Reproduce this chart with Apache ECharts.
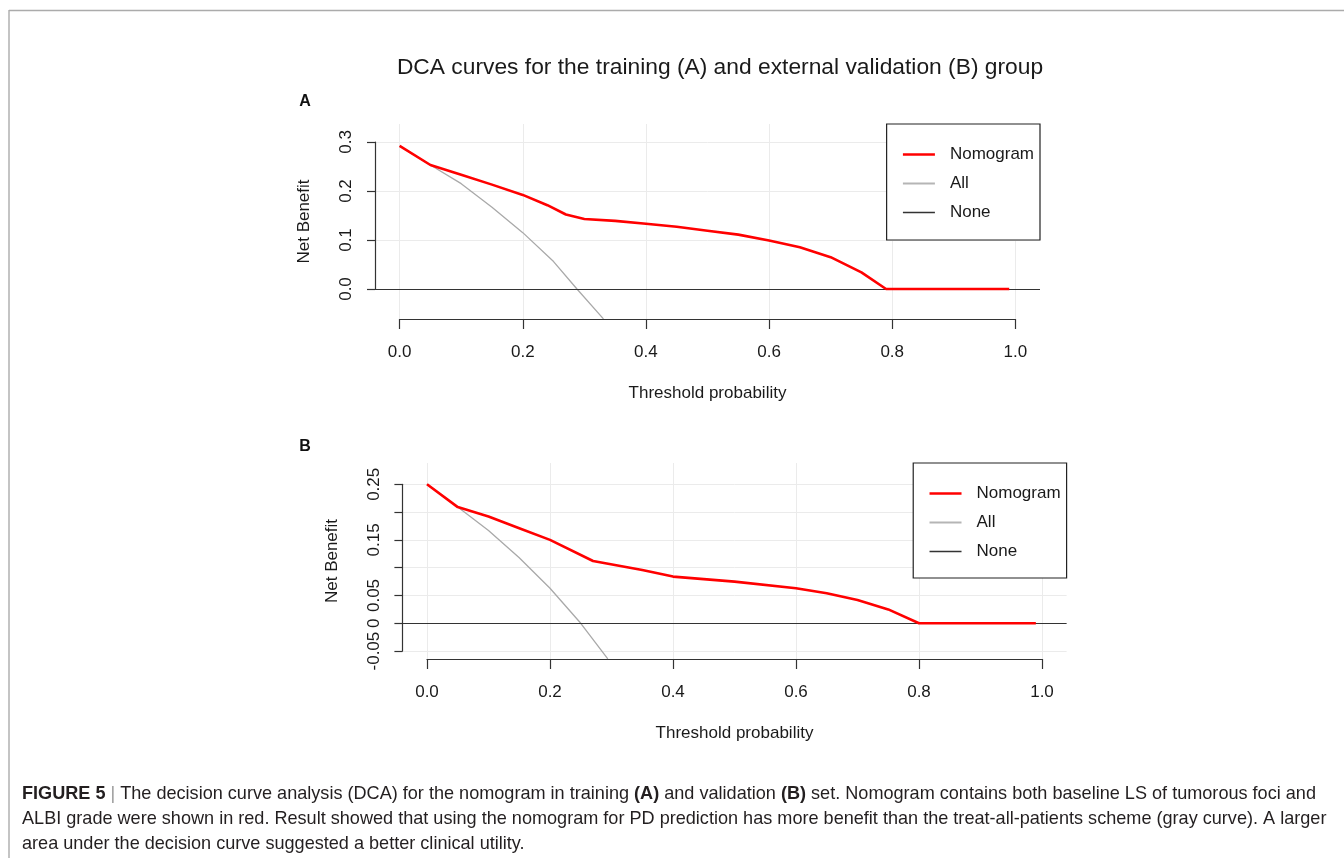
<!DOCTYPE html>
<html>
<head>
<meta charset="utf-8">
<script src="https://cdn.jsdelivr.net/npm/echarts@6/dist/echarts.min.js"></script>
<style>
  html, body { margin: 0; padding: 0; background: #ffffff; }
  #chart { width: 1344px; height: 858px; }
</style>
</head>
<body>
<div id="chart"></div>
<script>
// ---- Decision curve data: training set (A) ----
const thresholdsA_nomogram = [0, 0.05, 0.10, 0.15, 0.20, 0.24, 0.27, 0.30, 0.35, 0.40, 0.45, 0.50, 0.55, 0.60, 0.65, 0.70, 0.75, 0.79, 0.99];
const netBenefitA_nomogram = [0.292, 0.253, 0.233, 0.213, 0.192, 0.171, 0.152, 0.143, 0.139, 0.133, 0.127, 0.119, 0.111, 0.099, 0.085, 0.065, 0.034, 0, 0];
const thresholdsA_all = [0, 0.05, 0.10, 0.15, 0.20, 0.25, 0.288, 0.331];
const netBenefitA_all = [0.292, 0.253, 0.215, 0.167, 0.115, 0.056, 0, -0.061];

// ---- Decision curve data: external validation set (B) ----
const thresholdsB_nomogram = [0, 0.05, 0.10, 0.15, 0.20, 0.27, 0.35, 0.40, 0.50, 0.60, 0.65, 0.70, 0.75, 0.80, 0.99];
const netBenefitB_nomogram = [0.250, 0.209, 0.192, 0.171, 0.150, 0.112, 0.096, 0.084, 0.075, 0.063, 0.054, 0.042, 0.025, 0, 0];
const thresholdsB_all = [0, 0.05, 0.10, 0.15, 0.20, 0.25, 0.294];
const netBenefitB_all = [0.250, 0.209, 0.167, 0.118, 0.063, 0, -0.064];

// "None" strategy: zero net benefit
const netBenefitNone = 0;

// ---- Axis ticks ----
const xTicks = [0, 0.2, 0.4, 0.6, 0.8, 1.0];
const yTicksA = [0, 0.1, 0.2, 0.3];
const yTicksB = [-0.05, 0, 0.05, 0.10, 0.15, 0.20, 0.25];
const yTickLabelsA = ['0.0', '0.1', '0.2', '0.3'];
const yTickLabelsB = ['-0.05', '0', '0.05', '0.15', '0.25'];

const legendNames = ['Nomogram', 'All', 'None'];
const mainTitle = 'DCA curves for the training (A) and external validation (B) group';
const xName = 'Threshold probability';
const yName = 'Net Benefit';

// ---- Layout (pixels) ----
const W = 1344, H = 858;
const FONT = '"Liberation Sans", Arial, Helvetica, sans-serif';
const X_DOMAIN = [-0.04, 1.04];
const panels = [
  {
    letter: 'A', letterPos: [305, 102],
    rect: { left: 375, right: 1040, top: 124, bottom: 319 },
    yDomain: [-0.0612, 0.3367],
    yTicks: yTicksA, yLabels: yTickLabelsA, yDigits: 1,
    nomX: thresholdsA_nomogram, nomY: netBenefitA_nomogram,
    allX: thresholdsA_all, allY: netBenefitA_all,
    legendPad: [22, 6, 19, 15]
  },
  {
    letter: 'B', letterPos: [305, 447],
    rect: { left: 402.4, right: 1066.6, top: 463, bottom: 659 },
    yDomain: [-0.0642, 0.2883],
    yTicks: yTicksB, yLabels: yTickLabelsB, yDigits: 2,
    nomX: thresholdsB_nomogram, nomY: netBenefitB_nomogram,
    allX: thresholdsB_all, allY: netBenefitB_all,
    legendPad: [22, 6, 18, 15]
  }
];

const toPx = (r, d, v) => r.left + (v - d[0]) / (d[1] - d[0]) * (r.right - r.left);
const toPy = (r, d, v) => r.bottom - (v - d[0]) / (d[1] - d[0]) * (r.bottom - r.top);
const zip = (xs, ys) => xs.map((x, i) => [x, ys[i]]);

const AXIS_COLOR = '#333333';
const GRID_COLOR = '#ebebeb';
const TEXT_COLOR = '#1a1a1a';
const RED = '#ff0000', GRAY = '#a9a9a9';

const legendStyles = {
  Nomogram: { color: RED, width: 2.6 },
  All: { color: '#b5b5b5', width: 1.8 },
  None: { color: AXIS_COLOR, width: 1.3 }
};

const grids = [], xAxes = [], yAxes = [], series = [], legends = [], graphics = [];

panels.forEach((p) => {
  const r = p.rect;
  const base = grids.length;
  const gMain = base, gX = base + 1, gY = base + 2;

  // plotting region
  grids.push({ left: r.left, top: r.top, width: r.right - r.left, height: r.bottom - r.top, outerBoundsMode: 'none', containLabel: false });
  // x axis spans 0..1 only
  const x0 = toPx(r, X_DOMAIN, 0), x1 = toPx(r, X_DOMAIN, 1);
  grids.push({ left: x0, top: r.top, width: x1 - x0, height: r.bottom - r.top, outerBoundsMode: 'none', containLabel: false });
  // y axis spans first..last tick only
  const yLo = p.yTicks[0], yHi = p.yTicks[p.yTicks.length - 1];
  const py1 = toPy(r, p.yDomain, yHi), py0 = toPy(r, p.yDomain, yLo);
  grids.push({ left: r.left, top: py1, width: r.right - r.left, height: py0 - py1, outerBoundsMode: 'none', containLabel: false });

  // main grid axes: invisible scales, carry the axis names
  xAxes.push({
    gridIndex: gMain, type: 'value', min: X_DOMAIN[0], max: X_DOMAIN[1],
    axisLine: { show: false }, axisTick: { show: false }, axisLabel: { show: false }, splitLine: { show: false },
    name: xName, nameLocation: 'middle', nameGap: 66,
    nameTextStyle: { fontFamily: FONT, fontSize: 17, color: TEXT_COLOR }
  });
  yAxes.push({
    gridIndex: gMain, type: 'value', min: p.yDomain[0], max: p.yDomain[1],
    axisLine: { show: false }, axisTick: { show: false }, axisLabel: { show: false }, splitLine: { show: false },
    name: yName, nameLocation: 'middle', nameGap: 62, nameRotate: 90,
    nameTextStyle: { fontFamily: FONT, fontSize: 17, color: TEXT_COLOR }
  });

  // visible x axis with vertical grid lines
  xAxes.push({
    gridIndex: gX, type: 'value', min: xTicks[0], max: xTicks[xTicks.length - 1], interval: 0.2,
    position: 'bottom',
    axisLine: { show: true, onZero: false, lineStyle: { color: AXIS_COLOR, width: 1.2 } },
    axisTick: { show: true, length: 10, lineStyle: { color: AXIS_COLOR, width: 1.2 } },
    axisLabel: { margin: 25, fontFamily: FONT, fontSize: 17, color: TEXT_COLOR, formatter: v => v.toFixed(1) },
    splitLine: { show: true, lineStyle: { color: GRID_COLOR, width: 1 } }
  });
  yAxes.push({ gridIndex: gX, type: 'value', min: 0, max: 1, show: false });

  // visible y axis with horizontal grid lines
  xAxes.push({ gridIndex: gY, type: 'value', min: 0, max: 1, show: false });
  yAxes.push({
    gridIndex: gY, type: 'value', min: yLo, max: yHi, interval: p.yTicks[1] - p.yTicks[0],
    position: 'left',
    axisLine: { show: true, onZero: false, lineStyle: { color: AXIS_COLOR, width: 1.2 } },
    axisTick: { show: true, length: 8, lineStyle: { color: AXIS_COLOR, width: 1.2 } },
    axisLabel: {
      rotate: 90, margin: 20, fontFamily: FONT, fontSize: 17, color: TEXT_COLOR,
      hideOverlap: false,
      formatter: v => {
        const s = Math.abs(v) < 1e-9 ? (p.yDigits === 1 ? '0.0' : '0') : v.toFixed(p.yDigits);
        return p.yLabels.includes(s) ? s : '';
      }
    },
    splitLine: { show: true, lineStyle: { color: GRID_COLOR, width: 1 } }
  });

  // series
  series.push({
    name: 'None', type: 'line', xAxisIndex: gMain, yAxisIndex: gMain, data: [],
    symbol: 'none', z: 3,
    itemStyle: { color: AXIS_COLOR },
    lineStyle: { color: AXIS_COLOR, width: 1.2 },
    markLine: {
      silent: true, symbol: 'none', label: { show: false },
      lineStyle: { color: AXIS_COLOR, width: 1.2, type: 'solid' },
      data: [{ yAxis: netBenefitNone }]
    }
  });
  series.push({
    name: 'All', type: 'line', xAxisIndex: gMain, yAxisIndex: gMain,
    data: zip(p.allX, p.allY), symbol: 'none', z: 4, clip: true,
    itemStyle: { color: GRAY },
    lineStyle: { color: GRAY, width: 1.3 }
  });
  series.push({
    name: 'Nomogram', type: 'line', xAxisIndex: gMain, yAxisIndex: gMain,
    data: zip(p.nomX, p.nomY), symbol: 'none', z: 5, clip: true,
    itemStyle: { color: RED },
    lineStyle: { color: RED, width: 2.6 }
  });

  legends.push({
    orient: 'vertical', right: W - r.right, top: r.top,
    padding: p.legendPad, itemWidth: 32, itemHeight: 14, itemGap: 12,
    borderColor: '#222', borderWidth: 1.2, borderRadius: 0, backgroundColor: '#ffffff',
    data: legendNames.map(n => ({ name: n, lineStyle: { color: legendStyles[n].color, width: legendStyles[n].width } })),
    selectedMode: false,
    itemStyle: { opacity: 0 },
    textStyle: { fontFamily: FONT, fontSize: 17, color: TEXT_COLOR, padding: [0, 0, 0, 10] }
  });

  graphics.push({
    type: 'text', x: p.letterPos[0], y: p.letterPos[1],
    style: { text: p.letter, fontFamily: FONT, fontSize: 16, fontWeight: 'bold', fill: '#111', align: 'center', verticalAlign: 'middle' }
  });
});

// figure frame
graphics.push({ type: 'line', shape: { x1: 9, y1: 10.5, x2: W, y2: 10.5 }, style: { stroke: '#ababab', lineWidth: 1.6 } });
graphics.push({ type: 'line', shape: { x1: 9, y1: 10, x2: 9, y2: H }, style: { stroke: '#ababab', lineWidth: 1.4 } });

// title
graphics.push({
  type: 'text', x: 720, y: 68,
  style: { text: mainTitle, fontFamily: FONT, fontSize: 22.8, fill: '#1a1a1a', align: 'center', verticalAlign: 'middle' }
});

// caption
const captionLines = [
  '{b|FIGURE 5} {s||} The decision curve analysis (DCA) for the nomogram in training {b|(A)} and validation {b|(B)} set. Nomogram contains both baseline LS of tumorous foci and',
  'ALBI grade were shown in red. Result showed that using the nomogram for PD prediction has more benefit than the treat-all-patients scheme (gray curve). A larger',
  'area under the decision curve suggested a better clinical utility.'
];
const CAP_SIZE = 18.1;
captionLines.forEach((t, i) => {
  graphics.push({
    type: 'text', x: 22, y: 793.5 + i * 25,
    style: {
      text: t, fontFamily: FONT, fontSize: CAP_SIZE, fill: '#231f20', align: 'left', verticalAlign: 'middle',
      rich: {
        b: { fontFamily: FONT, fontSize: CAP_SIZE, fontWeight: 'bold', fill: '#231f20' },
        s: { fontFamily: FONT, fontSize: CAP_SIZE, fill: '#9a9a9a' }
      }
    }
  });
});

const chart = echarts.init(document.getElementById('chart'), null, { renderer: 'canvas' });
chart.setOption({
  animation: false,
  backgroundColor: '#ffffff',
  textStyle: { fontFamily: FONT },
  grid: grids,
  xAxis: xAxes,
  yAxis: yAxes,
  legend: legends,
  series: series,
  graphic: graphics
});
</script>
</body>
</html>
